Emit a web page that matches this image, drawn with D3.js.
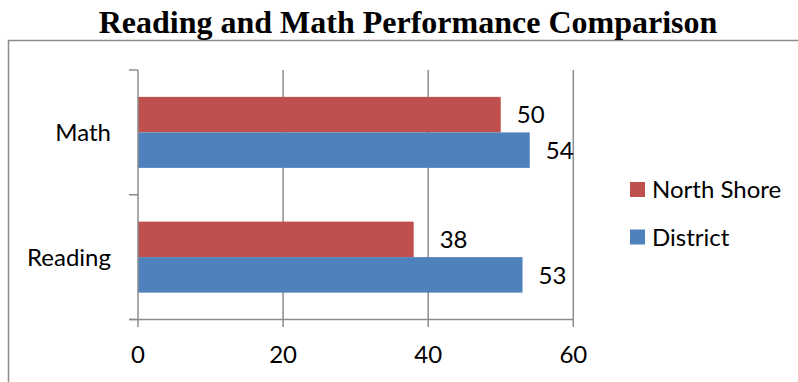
<!DOCTYPE html>
<html><head><meta charset="utf-8">
<script src="https://cdn.jsdelivr.net/npm/d3@7"></script>
<style>html,body{margin:0;padding:0;background:#fff;overflow:hidden}</style>
</head><body>
<svg id="chart" width="798" height="382"></svg>
<script>
const categories = ["Math", "Reading"];
const seriesNames = ["North Shore", "District"];
const northShore = [50, 38];
const district = [54, 53];
const xTicks = [0, 20, 40, 60];
const colors = ["#C0504D", "#4F81BD"];

const svg = d3.select("#chart");
const font = "Lato, 'Open Sans', sans-serif";
const fs = 24;

// outer border
svg.append("rect").attr("x", 8.5).attr("y", 40.5).attr("width", 820).attr("height", 400)
  .attr("fill", "none").attr("stroke", "#8c8c8c").attr("stroke-width", 1.5);

svg.append("text").attr("x", 408).attr("y", 33).attr("text-anchor", "middle")
  .attr("font-family", "'Liberation Serif', 'Times New Roman', serif").attr("font-weight", "bold")
  .attr("font-size", 32).attr("fill", "#000").text("Reading and Math Performance Comparison");

const x = d3.scaleLinear().domain([0, 60]).range([138, 573.3]);
const y = d3.scaleBand().domain(categories).range([70, 319.5]);
const ys = d3.scaleBand().domain(seriesNames).range([0, y.bandwidth()]).paddingOuter(0.757);

const grid = "#8c8c8c";
// gridlines
svg.append("g").selectAll("line").data(xTicks.slice(1)).join("line")
  .attr("x1", d => x(d)).attr("x2", d => x(d)).attr("y1", 70).attr("y2", 327)
  .attr("stroke", grid).attr("stroke-width", 1.5);

const values = [northShore, district];
categories.forEach((c, ci) => {
  seriesNames.forEach((s, si) => {
    const v = values[si][ci];
    svg.append("rect").attr("x", x(0)).attr("y", y(c) + ys(s))
      .attr("width", x(v) - x(0)).attr("height", ys.bandwidth()).attr("fill", colors[si]);
    const nudge = (c === "Reading" && s === "North Shore") ? 10 : 0;
    svg.append("text").attr("x", x(v) + 16 + nudge).attr("y", y(c) + ys(s) + ys.bandwidth() / 2)
      .attr("dy", "0.36em").attr("font-family", font).attr("font-size", fs).attr("fill", "#000").text(v);
  });
});

// y axis
svg.append("line").attr("x1", x(0)).attr("x2", x(0)).attr("y1", 70).attr("y2", 327)
  .attr("stroke", grid).attr("stroke-width", 1.5);
const yTickPos = [70, y("Reading"), 319.5];
svg.append("g").selectAll("line").data(yTickPos).join("line")
  .attr("x1", 129).attr("x2", x(0)).attr("y1", d => d).attr("y2", d => d)
  .attr("stroke", grid).attr("stroke-width", 1.5);
// x axis
svg.append("line").attr("x1", 129).attr("x2", x(60)).attr("y1", 319.5).attr("y2", 319.5)
  .attr("stroke", grid).attr("stroke-width", 1.5);
svg.append("g").selectAll("text").data(xTicks).join("text")
  .attr("x", d => x(d)).attr("y", 363).attr("text-anchor", "middle")
  .attr("font-family", font).attr("font-size", fs).attr("fill", "#000").text(d => d);

svg.append("g").selectAll("text").data(categories).join("text")
  .attr("x", 111).attr("y", d => y(d) + y.bandwidth() / 2).attr("dy", "0.36em")
  .attr("text-anchor", "end").attr("font-family", font).attr("font-size", fs).attr("fill", "#000").text(d => d);

// legend
const lg = svg.append("g");
seriesNames.forEach((s, i) => {
  const ly = 182 + i * 47.5;
  lg.append("rect").attr("x", 630).attr("y", ly).attr("width", 15).attr("height", 15).attr("fill", colors[i]);
  lg.append("text").attr("x", 652).attr("y", ly + 7.5).attr("dy", "0.36em")
    .attr("font-family", font).attr("font-size", fs).attr("fill", "#000").text(s);
});
</script>
</body></html>
